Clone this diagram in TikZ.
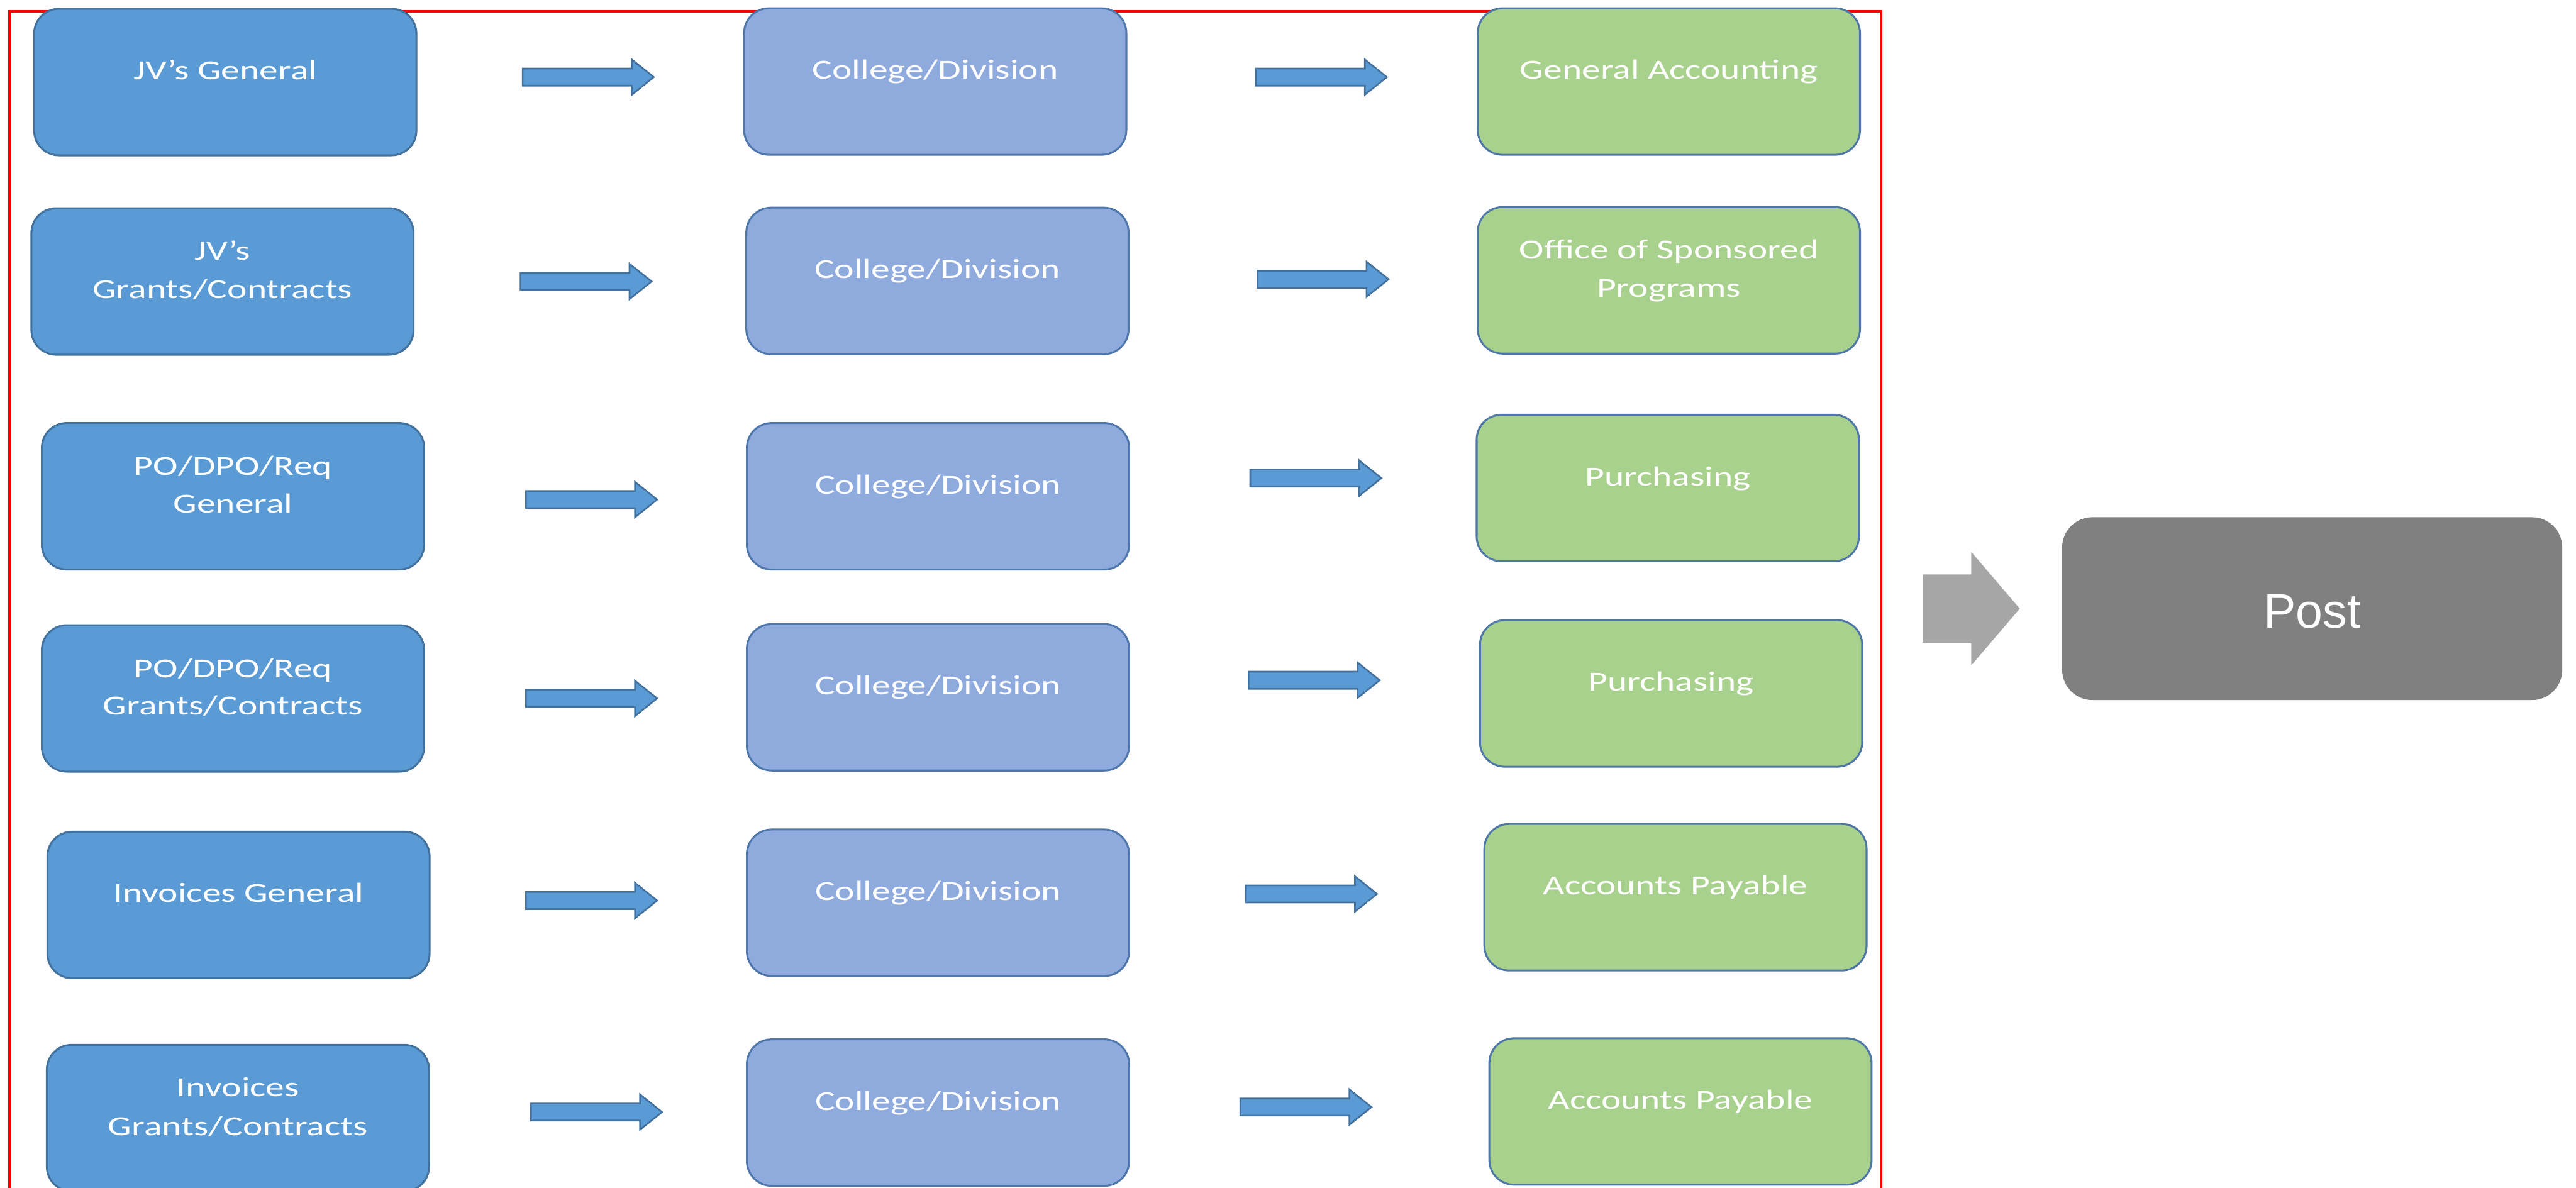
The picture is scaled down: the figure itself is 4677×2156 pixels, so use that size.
\documentclass[tikz,border=0pt]{standalone}
\usepackage{fontspec}
\newfontfamily\boxfontfam[FakeStretch=1.36]{Carlito}
\newfontfamily\postfontfam{Liberation Sans}
\newcommand{\boxfont}{\boxfontfam\fontsize{5}{6}\selectfont}
\newcommand{\postfont}{\postfontfam\fontsize{8.8}{10}\selectfont}
\definecolor{cAfill}{HTML}{5B9BD5}
\definecolor{cAline}{HTML}{41719C}
\definecolor{cBfill}{HTML}{8FAADC}
\definecolor{cBline}{HTML}{4F77AC}
\definecolor{cCfill}{HTML}{A9D18E}
\definecolor{cCline}{HTML}{4E77A6}
\definecolor{arrfill}{HTML}{5B9BD5}
\definecolor{arrline}{HTML}{41719C}
\definecolor{greyarr}{HTML}{A6A6A6}
\definecolor{postfill}{HTML}{808080}
\definecolor{framered}{HTML}{FF0000}
\tikzset{
  cbox/.style={rectangle, rounded corners=4.5pt, line width=0.35pt,
    minimum width=69.4pt, minimum height=26.6pt, inner sep=0pt},
  colA/.style={cbox, fill=cAfill, draw=cAline},
  colB/.style={cbox, fill=cBfill, draw=cBline},
  colC/.style={cbox, fill=cCfill, draw=cCline},
  lbl/.style={text=white, font=\boxfont, inner sep=0pt, anchor=base},
  blockarrow/.pic={
    \draw[fill=arrfill, draw=arrline, line width=0.3pt, line join=miter]
      (0,-15.5) -- (198,-15.5) -- (198,-32) -- (238,0) -- (198,32)
      -- (198,15.5) -- (0,15.5) -- cycle;
  }
}
\begin{document}
\begin{tikzpicture}[x=0.1pt,y=-0.1pt]
\useasboundingbox (0,0) rectangle (4677,2156);
\clip (0,0) rectangle (4677,2156);

% red frame
\draw[framered, line width=0.45pt] (17,2200) -- (17,21) -- (3415,21) -- (3415,2200);

% column 1
\node[colA] (a1) at (409,149) {};
\node[colA] (a2) at (404,511) {};
\node[colA] (a3) at (423,901) {};
\node[colA] (a4) at (423,1268) {};
\node[colA] (a5) at (433,1643) {};
\node[colA] (a6) at (432,2030) {};

% column 2
\node[colB] (b1) at (1698,148) {};
\node[colB] (b2) at (1702,510) {};
\node[colB] (b3) at (1703,901) {};
\node[colB] (b4) at (1703,1266) {};
\node[colB] (b5) at (1703,1639) {};
\node[colB] (b6) at (1703,2020) {};

% column 3
\node[colC] (c1) at (3030,148) {};
\node[colC] (c2) at (3030,509) {};
\node[colC] (c3) at (3028,886) {};
\node[colC] (c4) at (3034,1259) {};
\node[colC] (c5) at (3042,1629) {};
\node[colC] (c6) at (3051,2018) {};

% labels column 1
\node[lbl] (ta1) at ([yshift=0.45pt]a1.center) {JV’s General};
\node[lbl] (ta2a) at ([yshift=3.9pt]a2.center) {JV’s};
\node[lbl] (ta2b) at ([yshift=-3.1pt]a2.center) {Grants/Contracts};
\node[lbl] (ta3a) at ([yshift=3.8pt]a3.center) {PO/DPO/Req};
\node[lbl] (ta3b) at ([yshift=-3.0pt]a3.center) {General};
\node[lbl] (ta4a) at ([yshift=3.8pt]a4.center) {PO/DPO/Req};
\node[lbl] (ta4b) at ([yshift=-3.0pt]a4.center) {Grants/Contracts};
\node[lbl] (ta5) at ([yshift=0.45pt]a5.center) {Invoices General};
\node[lbl] (ta6a) at ([yshift=3.9pt]a6.center) {Invoices};
\node[lbl] (ta6b) at ([yshift=-3.1pt]a6.center) {Grants/Contracts};

% labels column 2
\foreach \n in {1,...,6}{
  \node[lbl] (tb\n) at ([yshift=0.45pt]b\n.center) {College/Division};
}

% labels column 3
\node[lbl] (tc1) at ([yshift=0.45pt]c1.center) {General Accounting};
\node[lbl] (tc2a) at ([yshift=3.9pt]c2.center) {Office of Sponsored};
\node[lbl] (tc2b) at ([yshift=-3.1pt]c2.center) {Programs};
\node[lbl] (tc3) at ([yshift=0.45pt]c3.center) {Purchasing};
\node[lbl] (tc4) at ([yshift=0.45pt]c4.center) {Purchasing};
\node[lbl] (tc5) at ([yshift=0.45pt]c5.center) {Accounts Payable};
\node[lbl] (tc6) at ([yshift=0.45pt]c6.center) {Accounts Payable};

% block arrows column 1 -> column 2
\pic at (949,140) {blockarrow};
\pic at (945,511) {blockarrow};
\pic at (955,907) {blockarrow};
\pic at (955,1268) {blockarrow};
\pic at (955,1635) {blockarrow};
\pic at (964,2019) {blockarrow};

% block arrows column 2 -> column 3
\pic at (2280,140) {blockarrow};
\pic at (2283,507) {blockarrow};
\pic at (2270,868) {blockarrow};
\pic at (2267,1235) {blockarrow};
\pic at (2262,1623) {blockarrow};
\pic at (2252,2010) {blockarrow};

% grey arrow to Post
\fill[greyarr] (3491,1043) -- (3579,1043) -- (3579,1002) -- (3667,1105)
  -- (3579,1208) -- (3579,1167) -- (3491,1167) -- cycle;

% Post box
\node[rectangle, rounded corners=5.5pt, fill=postfill, minimum width=90.8pt,
  minimum height=33.2pt, inner sep=0pt] (post) at (4198,1105) {};
\node[text=white, font=\postfont, inner sep=0pt, anchor=base] (posttxt)
  at ([yshift=-3.5pt]post.center) {Post};
\end{tikzpicture}
\end{document}
